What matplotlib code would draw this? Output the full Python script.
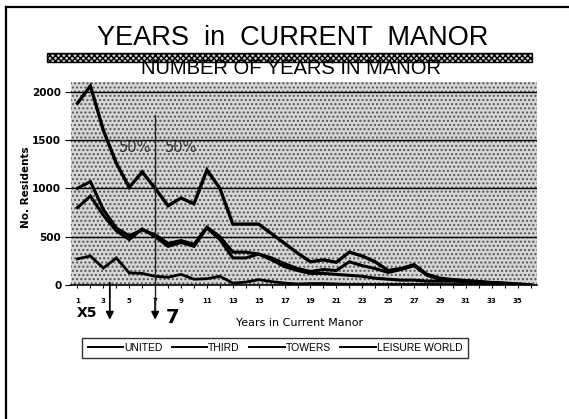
import matplotlib
matplotlib.use("Agg")
import matplotlib.pyplot as plt
from matplotlib.patches import Rectangle
from matplotlib.lines import Line2D
import matplotlib.transforms as mtransforms

# ---------------- data ----------------
years = list(range(1, 37))
united = [1880, 2060, 1600, 1260, 1010, 1170, 1000, 820, 900, 840, 1190, 1000,
          630, 630, 630, 530, 430, 330, 240, 260, 235, 340, 300, 240, 150, 170,
          210, 110, 70, 55, 45, 35, 25, 20, 10, 0]
third = [1000, 1070, 780, 590, 510, 570, 520, 430, 460, 420, 600, 500,
         340, 340, 320, 280, 220, 170, 140, 160, 150, 240, 200, 170, 130, 160,
         200, 100, 60, 50, 45, 35, 20, 15, 5, 0]
towers = [800, 920, 720, 560, 470, 580, 500, 400, 440, 400, 590, 470,
          280, 280, 320, 260, 190, 150, 120, 120, 110, 100, 90, 70, 60, 50,
          50, 40, 40, 40, 35, 30, 25, 15, 10, 0]
leisure = [270, 300, 175, 280, 125, 120, 90, 80, 110, 60, 65, 90,
           20, 30, 55, 35, 20, 10, 15, 15, 10, 5, 5, 5, 5, 5,
           5, 5, 5, 5, 5, 5, 5, 5, 0, 0]
series_names = ["UNITED", "THIRD", "TOWERS", "LEISURE WORLD"]
xtick_labels = [str(y) for y in range(1, 36, 2)]
ytick_vals = [0, 500, 1000, 1500, 2000]
title = "YEARS  in  CURRENT  MANOR"
subtitle = "NUMBER OF YEARS IN MANOR"
marker_years = [3.5, 7]
pct_labels = ["50%", "50%"]

W, H = 569, 419
fig = plt.figure(figsize=(W / 100, H / 100), dpi=100)
fig.patch.set_facecolor("white")

def fx(px):
    return px / W

def fy(py):
    return 1 - py / H

# page border lines
fig.add_artist(Line2D([fx(6), fx(6)], [fy(7), fy(419)], color="black", lw=1.6))
fig.add_artist(Line2D([fx(6), fx(569)], [fy(7), fy(7)], color="black", lw=1.6))

# title
fig.text(fx(293), fy(38), title, ha="center", va="center",
         fontsize=19.5, family="Liberation Sans", color="black")
# stippled band
band = Rectangle((fx(47), fy(62)), fx(532) - fx(47), fy(53) - fy(62),
                 transform=fig.transFigure, facecolor="#cccccc",
                 edgecolor="black", hatch="xxxxxx", lw=1.0)
fig.add_artist(band)
fig.text(fx(291), fy(69), subtitle, ha="center", va="center",
         fontsize=14.5, family="Liberation Sans", color="black", zorder=5)

# axes
ax = fig.add_axes([fx(71), fy(285), fx(537) - fx(71), fy(82) - fy(285)])
ax.set_facecolor("#d6d6d6")
bg = Rectangle((0, 0), 1, 1, transform=ax.transAxes, facecolor="none",
               edgecolor="#555555", hatch="....", lw=0, zorder=0)
ax.add_patch(bg)

for vals, name, lw in zip([united, third, towers, leisure], series_names,
                          [2.4, 2.2, 2.2, 2.0]):
    ax.plot(years, vals, color="black", lw=lw, label=name, zorder=3,
            solid_joinstyle="miter")

ax.set_xlim(0.5, 36.5)
ax.set_ylim(0, 2100)
ax.set_yticks(ytick_vals)
ax.set_yticklabels([str(v) for v in ytick_vals], fontsize=7.5,
                   fontweight="bold", family="DejaVu Sans")
ax.set_xticks(list(range(1, 36, 2)))
ax.set_xticklabels(xtick_labels, fontsize=5, fontweight="bold",
                   family="DejaVu Sans")
ax.set_xticks(years, minor=True)
ax.tick_params(axis="x", which="both", direction="out", length=2, width=0.8,
               pad=7)
ax.tick_params(axis="y", direction="out", length=4, width=0.8, pad=3)
for v in ytick_vals[1:]:
    ax.axhline(v, color="black", lw=1.0, zorder=2)
for s in ["top", "right", "left"]:
    ax.spines[s].set_visible(False)
ax.spines["bottom"].set_linewidth(1.2)

ax.set_xlabel("Years in Current Manor", fontsize=8, family="DejaVu Sans",
              labelpad=5)
ax.set_ylabel("No. Residents", fontsize=7.5, family="DejaVu Sans",
              fontweight="bold", labelpad=6)
ax.yaxis.set_label_coords(-0.085, 0.48)
ax.xaxis.set_label_coords(0.49, -0.165)

# markers: vertical line at 7 and arrows
trans = mtransforms.blended_transform_factory(ax.transData, ax.transAxes)
ax.add_line(Line2D([marker_years[1], marker_years[1]], [0.837, -0.12],
                   transform=trans, color="#222222", lw=1.0, clip_on=False,
                   zorder=4))
ax.annotate("", xy=(marker_years[0], -0.185), xycoords=trans,
            xytext=(marker_years[0], 0.025), textcoords=trans,
            arrowprops=dict(arrowstyle="-|>", color="black", lw=1.3,
                            mutation_scale=11), annotation_clip=False)
ax.annotate("", xy=(marker_years[1], -0.185), xycoords=trans,
            xytext=(marker_years[1], -0.05), textcoords=trans,
            arrowprops=dict(arrowstyle="-|>", color="black", lw=1.3,
                            mutation_scale=11), annotation_clip=False)
ax.text(1.75, -0.14, "X5", transform=trans, ha="center", va="center",
        fontsize=10, fontweight="bold", family="DejaVu Sans", clip_on=False)
ax.text(8.35, -0.158, "7", transform=trans, ha="center", va="center",
        fontsize=14, fontweight="bold", family="DejaVu Sans", clip_on=False)
ax.text(6.7, 1420, pct_labels[0], ha="right", va="center", fontsize=10.5,
        color="#333333", family="DejaVu Sans", zorder=5)
ax.text(7.75, 1420, pct_labels[1], ha="left", va="center", fontsize=10.5,
        color="#333333", family="DejaVu Sans", zorder=5)

# legend
leg = fig.legend(loc="center", bbox_to_anchor=(fx(275), fy(348)), ncol=4,
                 frameon=True, fancybox=False, shadow=False,
                 prop={"family": "Liberation Sans", "size": 7.5},
                 handlelength=3.4, handletextpad=0.1, columnspacing=0.9,
                 borderpad=0.5)
leg.get_frame().set_edgecolor("black")
leg.get_frame().set_linewidth(1.0)
for h in leg.get_lines():
    h.set_linewidth(1.4)

fig.savefig("out.png", dpi=100)
